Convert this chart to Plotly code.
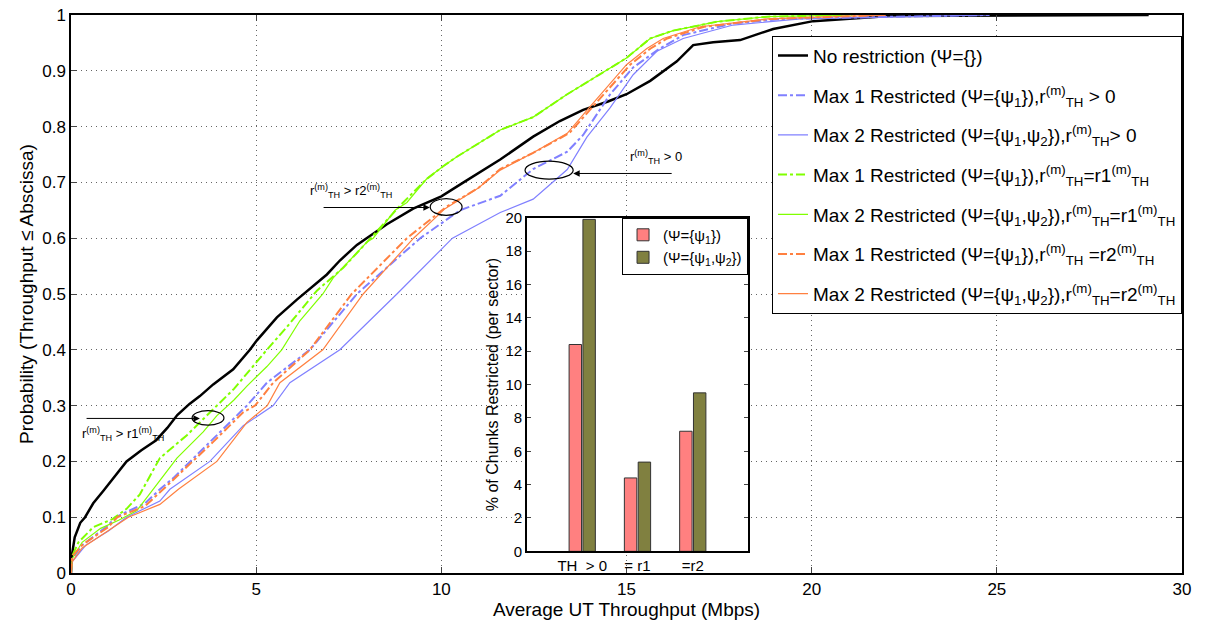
import plotly.graph_objects as go

# ---------------- data ----------------
black_x = [0, 0.02, 0.1, 0.25, 0.38, 0.6, 0.87, 1.2, 1.5, 1.9, 2.3, 2.6, 2.87, 3.2, 3.48, 3.84, 4.38, 4.83, 5.02,
           5.56, 6.1, 6.91, 7.26, 7.72, 8.2, 8.53, 9.24, 10.0, 10.6, 11.3, 11.59, 12.48, 13.2, 13.83, 14.5, 15.0,
           15.64, 16.36, 16.8, 17.34, 18.07, 18.96, 20.04, 22.1, 29.1]
black_y = [0, 0.03, 0.064, 0.09, 0.1, 0.125, 0.147, 0.175, 0.2, 0.22, 0.238, 0.26, 0.283, 0.303, 0.317, 0.338, 0.365,
           0.4, 0.417, 0.458, 0.49, 0.535, 0.56, 0.588, 0.61, 0.625, 0.653, 0.675, 0.7, 0.729, 0.741, 0.782, 0.81,
           0.83, 0.845, 0.858, 0.882, 0.917, 0.946, 0.951, 0.955, 0.975, 0.989, 0.998, 1.0]

g1_x = [0, 0.03, 0.2, 0.6, 1.13, 1.5, 1.86, 2.4, 3.13, 3.75, 4.1, 4.4, 5.29, 5.83, 6.64, 7.35, 8.16, 8.88, 9.6,
        10.05, 10.42, 11.59, 12.48, 13.4, 14.29, 15.0, 15.64, 16.26, 17.45, 18.8, 21.1]
g1_y = [0, 0.03, 0.055, 0.082, 0.097, 0.115, 0.141, 0.206, 0.247, 0.288, 0.31, 0.33, 0.4, 0.441, 0.506, 0.547,
        0.605, 0.658, 0.706, 0.729, 0.746, 0.794, 0.817, 0.858, 0.894, 0.923, 0.958, 0.972, 0.988, 0.997, 1.0]

g2_x = [0, 0.03, 0.3, 0.8, 1.3, 1.78, 2.32, 2.86, 3.57, 3.94, 4.4, 4.75, 5.29, 5.69, 6.18, 6.8, 7.08, 7.99, 8.16,
        8.75, 9.07, 9.6, 10.05, 10.42, 11.59, 12.48, 13.4, 14.29, 15.0, 15.64, 16.26, 17.45, 18.8, 21.1]
g2_y = [0, 0.025, 0.055, 0.08, 0.095, 0.112, 0.159, 0.206, 0.253, 0.282, 0.31, 0.335, 0.37, 0.4, 0.452, 0.5,
        0.529, 0.593, 0.6, 0.65, 0.664, 0.706, 0.729, 0.746, 0.794, 0.817, 0.858, 0.894, 0.923, 0.958, 0.972,
        0.988, 0.997, 1.0]

b1_x = [0, 0.03, 0.3, 1.0, 1.2, 2.0, 2.4, 2.76, 3.22, 3.57, 4.48, 4.75, 5.29, 6.45, 7.72, 9.43, 10.5, 11.59,
        12.48, 13.4, 13.83, 14.56, 15.18, 15.9, 16.53, 17.88, 19.2, 24.8]
b1_y = [0, 0.025, 0.05, 0.085, 0.1, 0.125, 0.15, 0.17, 0.2, 0.223, 0.282, 0.3, 0.341, 0.4, 0.5, 0.6, 0.65,
        0.676, 0.724, 0.755, 0.785, 0.858, 0.906, 0.94, 0.964, 0.985, 0.993, 1.0]

b2_x = [0, 0.03, 0.4, 1.0, 1.5, 2.4, 2.67, 3.75, 4.65, 5.46, 5.91, 7.26, 8.8, 10.3, 11.59, 12.48, 13.4, 13.93,
        14.56, 15.18, 15.82, 16.53, 17.88, 19.7, 24.8]
b2_y = [0, 0.02, 0.05, 0.075, 0.1, 0.129, 0.15, 0.2, 0.264, 0.3, 0.341, 0.4, 0.5, 0.6, 0.646, 0.67, 0.723,
        0.781, 0.834, 0.893, 0.935, 0.958, 0.982, 0.993, 1.0]

o1_x = [0, 0.03, 0.3, 1.0, 1.25, 2.0, 2.49, 3.3, 3.84, 4.65, 4.97, 5.46, 6.45, 7.58, 9.07, 10.13, 11.0, 11.59,
        12.48, 13.45, 14.0, 14.55, 15.1, 15.65, 16.1, 17.1, 18.9, 22.0]
o1_y = [0, 0.03, 0.05, 0.082, 0.1, 0.12, 0.15, 0.2, 0.235, 0.288, 0.3, 0.341, 0.4, 0.5, 0.6, 0.656, 0.69, 0.724,
        0.753, 0.788, 0.829, 0.87, 0.911, 0.94, 0.958, 0.979, 0.993, 1.0]

o2_x = [0, 0.03, 0.3, 1.0, 1.55, 2.4, 2.9, 3.94, 4.75, 5.3, 5.64, 6.8, 7.89, 9.25, 10.1, 11.0, 11.59, 12.48,
        13.4, 13.93, 14.47, 15.0, 15.55, 15.99, 16.99, 18.8, 22.0]
o2_y = [0, 0.02, 0.045, 0.075, 0.1, 0.123, 0.15, 0.2, 0.27, 0.3, 0.341, 0.4, 0.5, 0.6, 0.653, 0.69, 0.722, 0.753,
        0.788, 0.829, 0.87, 0.911, 0.94, 0.958, 0.979, 0.993, 1.0]

bar_cats = [1, 2, 3]
bar_ticktext = ["TH  > 0", "= r1", "=r2"]
bar_psi1 = [12.4, 4.4, 7.2]
bar_psi12 = [19.9, 5.35, 9.5]

x_ticks = [0, 5, 10, 15, 20, 25, 30]
y_ticks = [0, 0.1, 0.2, 0.3, 0.4, 0.5, 0.6, 0.7, 0.8, 0.9, 1]
inset_y_ticks = [0, 2, 4, 6, 8, 10, 12, 14, 16, 18, 20]

# ---------------- styling ----------------
FONT = "Liberation Sans, Arial, Helvetica, sans-serif"
BLUE = "#8080FF"
GREEN = "#80FF00"
ORANGE = "#FF8040"
RED = "#FF8080"
OLIVE = "#808040"
GRID_DASH = "1px,4px"

R = "r<sup>(m)</sup><sub>TH</sub>"

fig = go.Figure()

series = [
    ("No restriction (Ψ={})", black_x, black_y, "black", "solid", 2.5),
    ("Max 1 Restricted (Ψ={ψ<sub>1</sub>})," + R + " > 0", b1_x, b1_y, BLUE, "dashdot", 2),
    ("Max 2 Restricted (Ψ={ψ<sub>1</sub>,ψ<sub>2</sub>})," + R + "> 0", b2_x, b2_y, BLUE, "solid", 1.2),
    ("Max 1 Restricted (Ψ={ψ<sub>1</sub>})," + R + "=r1<sup>(m)</sup><sub>TH</sub>", g1_x, g1_y, GREEN, "dashdot", 2),
    ("Max 2 Restricted (Ψ={ψ<sub>1</sub>,ψ<sub>2</sub>})," + R + "=r1<sup>(m)</sup><sub>TH</sub>", g2_x, g2_y, GREEN, "solid", 1.2),
    ("Max 1 Restricted (Ψ={ψ<sub>1</sub>})," + R + " =r2<sup>(m)</sup><sub>TH</sub>", o1_x, o1_y, ORANGE, "dashdot", 2),
    ("Max 2 Restricted (Ψ={ψ<sub>1</sub>,ψ<sub>2</sub>})," + R + "=r2<sup>(m)</sup><sub>TH</sub>", o2_x, o2_y, ORANGE, "solid", 1.2),
]
for i, (name, xs, ys, col, dash, w) in enumerate(series):
    fig.add_trace(go.Scatter(x=xs, y=ys, mode="lines", name=name, legendgroup=f"g{i}",
                             line=dict(color=col, dash=dash, width=w), xaxis="x", yaxis="y"))

# inset bars
fig.add_trace(go.Bar(x=bar_cats, y=bar_psi1, name="(Ψ={ψ<sub>1</sub>})", marker=dict(color=RED, line=dict(color="#333", width=1)),
                     xaxis="x2", yaxis="y2", legend="legend2"))
fig.add_trace(go.Bar(x=bar_cats, y=bar_psi12, name="(Ψ={ψ<sub>1</sub>,ψ<sub>2</sub>})", marker=dict(color=OLIVE, line=dict(color="#333", width=1)),
                     xaxis="x2", yaxis="y2", legend="legend2"))

# annotations: ellipses, arrows, labels
ellipses = [(3.70, 0.278, 0.43, 0.013), (10.13, 0.656, 0.43, 0.015), (12.91, 0.722, 0.65, 0.016)]
for cx, cy, rx, ry in ellipses:
    fig.add_shape(type="circle", xref="x", yref="y", x0=cx - rx, x1=cx + rx, y0=cy - ry, y1=cy + ry,
                  line=dict(color="black", width=1.2), layer="above")

arrows = [((0.38, 0.277), (3.48, 0.277)), ((6.78, 0.655), (9.69, 0.655)), ((16.26, 0.716), (13.56, 0.716))]
for (tx, ty), (hx, hy) in arrows:
    fig.add_annotation(x=hx, y=hy, ax=tx, ay=ty, xref="x", yref="y", axref="x", ayref="y", text="",
                       showarrow=True, arrowhead=2, arrowsize=1.3, arrowwidth=1, arrowcolor="black")

labels = [(0.24, 0.249, R + " > r1<sup>(m)</sup><sub>TH</sub>"),
          (6.4, 0.685, R + " > r2<sup>(m)</sup><sub>TH</sub>"),
          (15.04, 0.745, R + " > 0")]
for lx, ly, t in labels:
    fig.add_annotation(x=lx, y=ly, xref="x", yref="y", text=t, showarrow=False, xanchor="left",
                       yanchor="middle", font=dict(size=13, color="black", family=FONT))

# white background for inset axes (drawn in the inset subplot layer, above main traces)
fig.add_shape(type="rect", xref="x2", yref="y2", x0=0, x1=4, y0=0, y1=20, fillcolor="white",
              line=dict(width=0), layer="below")

fig.update_layout(
    width=1217, height=631,
    margin=dict(l=71, r=35, t=6, b=58),
    paper_bgcolor="white", plot_bgcolor="white",
    font=dict(family=FONT, size=17, color="black"),
    showlegend=True,
    barmode="group", bargap=0.5, bargroupgap=0.1,
    xaxis=dict(range=[0, 30], tickvals=x_ticks, ticks="inside", ticklen=6, mirror="ticks", showline=True,
               linecolor="black", linewidth=1.5, showgrid=True, gridcolor="#666", griddash=GRID_DASH, gridwidth=1,
               zeroline=False, title=dict(text="Average UT Throughput (Mbps)", font=dict(size=19), standoff=4),
               tickfont=dict(size=17)),
    yaxis=dict(range=[0, 1], tickvals=y_ticks, ticktext=[str(v) for v in y_ticks], ticks="inside", ticklen=6,
               mirror="ticks", showline=True, linecolor="black", linewidth=1.5, showgrid=True, gridcolor="#666",
               griddash=GRID_DASH, gridwidth=1, zeroline=False,
               title=dict(text="Probability (Throughput ≤ Abscissa)", font=dict(size=19), standoff=4),
               tickfont=dict(size=17)),
    xaxis2=dict(domain=[0.4104, 0.6094], anchor="y2", range=[0, 4], tickvals=bar_cats, ticktext=bar_ticktext,
                ticks="", showline=True, mirror=True, linecolor="black", linewidth=1.5, showgrid=False,
                zeroline=False, tickfont=dict(size=15)),
    yaxis2=dict(domain=[0.0388, 0.6367], anchor="x2", range=[0, 20], tickvals=inset_y_ticks, ticks="inside",
                ticklen=4, mirror="ticks", showline=True, linecolor="black", linewidth=1.5, showgrid=False,
                zeroline=False, tickfont=dict(size=15),
                title=dict(text="% of Chunks Restricted (per sector)", font=dict(size=16), standoff=3)),
    legend=dict(x=1, xanchor="right", y=0.963, yanchor="top", bgcolor="white", bordercolor="black", borderwidth=1,
                font=dict(size=19), tracegroupgap=12, traceorder="grouped"),
    legend2=dict(x=0.6094, xanchor="right", y=0.637, yanchor="top", bgcolor="white", bordercolor="black",
                 borderwidth=1, font=dict(size=15)),
)

fig.write_html("out.html")
